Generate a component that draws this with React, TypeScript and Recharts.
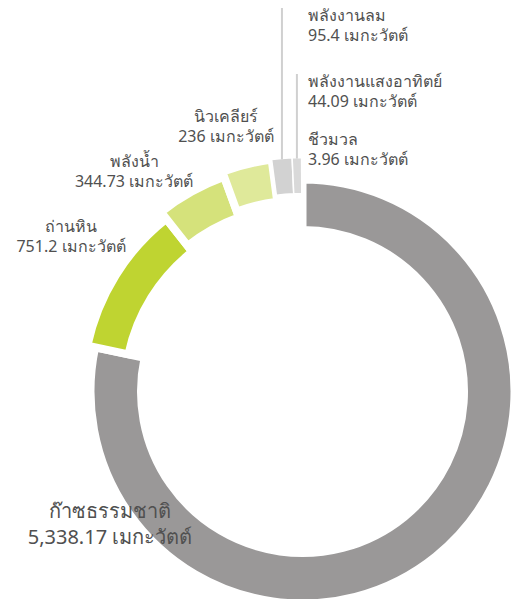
import React from "react";
import { PieChart, Pie, Cell } from "recharts";

const names = [
  "ก๊าซธรรมชาติ",
  "ถ่านหิน",
  "พลังน้ำ",
  "นิวเคลียร์",
  "พลังงานลม",
  "พลังงานแสงอาทิตย์",
  "ชีวมวล",
];
const values = [5338.17, 751.2, 344.73, 236, 95.4, 44.09, 3.96];
const valueText = ["5,338.17", "751.2", "344.73", "236", "95.4", "44.09", "3.96"];
const unit = "เมกะวัตต์";
const colors = ["#9a9898", "#bfd431", "#d5e27b", "#dfe99a", "#d2d2d2", "#d9d9d9", "#e2e2e2"];

const data = names.map((name, i) => ({ name, value: values[i] }));

// each ring paints only its own slices; the rest are left empty so angles stay shared
const rings = [
  { inner: 161.5, outer: 212, slices: [0], stroke: 8 },
  { inner: 178, outer: 220, slices: [1], stroke: 8 },
  { inner: 185.5, outer: 228.5, slices: [2], stroke: 8 },
  { inner: 191.5, outer: 234, slices: [3], stroke: 8 },
  { inner: 198, outer: 234, slices: [4, 5, 6], stroke: 1.5 },
];

const labelPos = [
  { x: 110, y: 518, anchor: "middle", size: 20, gap: 26 },
  { x: 71, y: 232, anchor: "middle", size: 16, gap: 20 },
  { x: 134, y: 167, anchor: "middle", size: 16, gap: 20 },
  { x: 226, y: 122, anchor: "middle", size: 16, gap: 20 },
  { x: 308, y: 21, anchor: "start", size: 16, gap: 20 },
  { x: 308, y: 87, anchor: "start", size: 16, gap: 20 },
  { x: 308, y: 145, anchor: "start", size: 16, gap: 20 },
];

const CX = 302.5;
const CY = 391.5;
const RAD = Math.PI / 180;
const font = '"Noto Sans", "DejaVu Sans", sans-serif';

function renderLabel(props: any) {
  const { index, midAngle, cx, cy, outerRadius } = props;
  const p = labelPos[index];
  let leader = null;
  // only wind and solar get a visible leader up to their labels
  if (index === 4 || index === 5) {
    const r = outerRadius - 1;
    const px = cx + r * Math.cos(-midAngle * RAD);
    const py = cy + r * Math.sin(-midAngle * RAD);
    leader = (
      <line x1={px} y1={py} x2={px} y2={p.y - 13} stroke="#d0d0d0" strokeWidth={2} />
    );
  }
  return (
    <g key={"lbl" + index}>
      {leader}
      <text
        x={p.x}
        y={p.y}
        textAnchor={p.anchor}
        fontFamily={font}
        fontSize={p.size}
        fill="#505050"
      >
        <tspan x={p.x} y={p.y}>{names[index]}</tspan>
        <tspan x={p.x} y={p.y + p.gap}>{valueText[index] + " " + unit}</tspan>
      </text>
    </g>
  );
}

export default function App() {
  return (
    <div style={{ position: "absolute", left: 0, top: 0, width: 512, height: 599, background: "#fff" }}>
      <PieChart width={512} height={599} margin={{ top: 0, right: 0, bottom: 0, left: 0 }}>
        {rings.map((ring, ri) => (
          <Pie
            key={ri}
            data={data}
            dataKey="value"
            nameKey="name"
            cx={CX}
            cy={CY}
            startAngle={90}
            endAngle={-270}
            innerRadius={ring.inner}
            outerRadius={ring.outer}
            isAnimationActive={false}
            label={ri === rings.length - 1 ? renderLabel : false}
            labelLine={false}
          >
            {data.map((d, i) => {
              const on = ring.slices.includes(i);
              return (
                <Cell
                  key={d.name}
                  fill={on ? colors[i] : "none"}
                  stroke={on ? "#fff" : "none"}
                  strokeWidth={on ? ring.stroke : 0}
                />
              );
            })}
          </Pie>
        ))}
      </PieChart>
    </div>
  );
}
